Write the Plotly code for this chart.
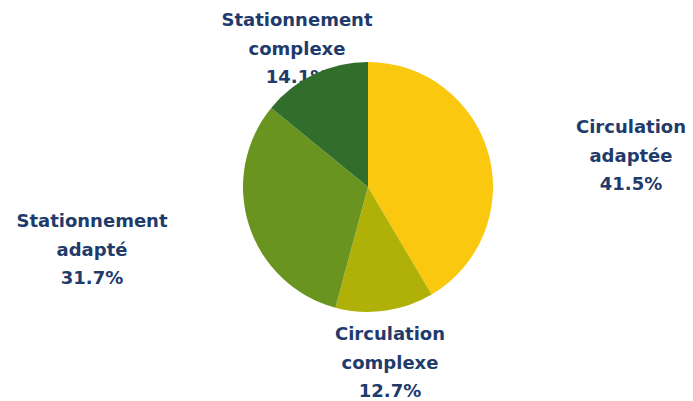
import plotly.graph_objects as go

labels = ["Circulation adaptée", "Circulation complexe", "Stationnement adapté", "Stationnement complexe"]
values = [41.5, 12.7, 31.7, 14.1]
colors = ["#FAC80F", "#AFB108", "#6A9420", "#316E2B"]

# label placement (pixel centres of each label block)
label_x = [631, 390, 92, 297]
label_y = [157, 364, 251, 50]
LINE_H = 28.5

W, H = 693, 401
txt_x, txt_y, txt = [], [], []
for name, v, cx, cy in zip(labels, values, label_x, label_y):
    lines = name.split(" ") + [f"{v:.1f}%"]
    n = len(lines)
    for i, ln in enumerate(lines):
        txt_x.append(cx)
        txt_y.append(cy + (i - (n - 1) / 2) * LINE_H)
        txt.append(ln)

fig = go.Figure()
fig.add_trace(go.Scatter(
    x=txt_x, y=txt_y, text=txt, mode="text",
    textposition="middle center",
    textfont=dict(family="DejaVu Sans", size=18, color="#1F3B6B", weight="bold"),
    hoverinfo="skip", showlegend=False,
))
fig.add_trace(go.Pie(
    labels=labels, values=values, sort=False, direction="clockwise", rotation=0,
    marker=dict(colors=colors, line=dict(width=0)),
    textinfo="none", showlegend=False,
    domain=dict(x=[243 / W, 493 / W], y=[1 - 312 / H, 1 - 62 / H]),
))
fig.update_layout(
    width=W, height=H, margin=dict(l=0, r=0, t=0, b=0),
    paper_bgcolor="white", plot_bgcolor="white",
    xaxis=dict(range=[0, W], visible=False, fixedrange=True),
    yaxis=dict(range=[H, 0], visible=False, fixedrange=True),
)
fig.write_html("out.html", config={"displayModeBar": False},
               post_script="document.body.style.margin='0';")
